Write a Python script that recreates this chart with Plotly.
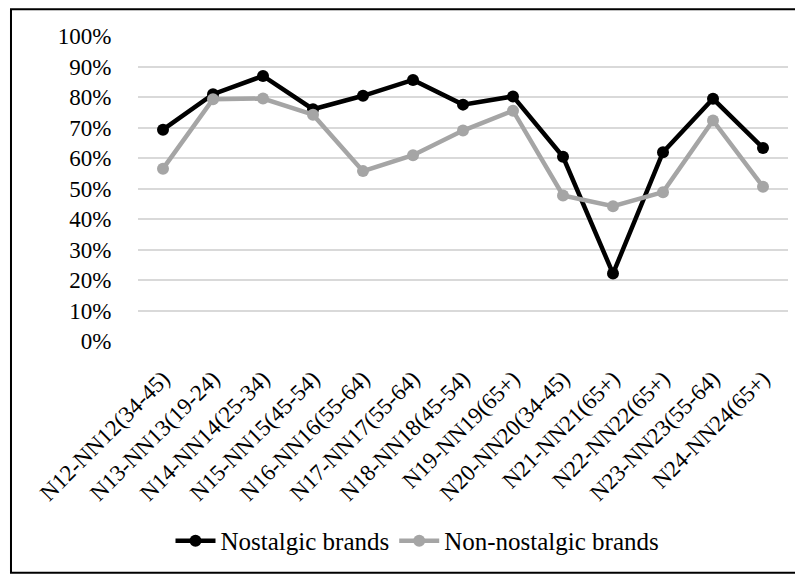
import plotly.graph_objects as go

categories = ["N12-NN12(34-45)", "N13-NN13(19-24)", "N14-NN14(25-34)", "N15-NN15(45-54)",
              "N16-NN16(55-64)", "N17-NN17(55-64)", "N18-NN18(45-54)", "N19-NN19(65+)",
              "N20-NN20(34-45)", "N21-NN21(65+)", "N22-NN22(65+)", "N23-NN23(55-64)",
              "N24-NN24(65+)"]
nostalgic = [69.3, 80.9, 86.9, 76.0, 80.4, 85.6, 77.5, 80.2, 60.4, 22.1, 61.9, 79.4, 63.3]
non_nostalgic = [56.5, 79.3, 79.5, 74.2, 55.7, 60.9, 69.0, 75.5, 47.7, 44.2, 48.8, 72.3, 50.6]
y_ticks = list(range(0, 101, 10))
y_labels = [f"{v}%" for v in y_ticks]

font = "Liberation Serif"

fig = go.Figure()
fig.add_trace(go.Scatter(x=categories, y=nostalgic, name="Nostalgic brands",
                         mode="lines+markers",
                         line=dict(color="black", width=4.5),
                         marker=dict(color="black", size=12)))
fig.add_trace(go.Scatter(x=categories, y=non_nostalgic, name="Non-nostalgic brands",
                         mode="lines+markers",
                         line=dict(color="#a5a5a5", width=4.5),
                         marker=dict(color="#a5a5a5", size=12)))

# page body has an 8px margin, so the figure is a bit smaller than the window
fig.update_layout(
    width=795, height=567,
    margin=dict(l=130, r=15, t=28, b=233),
    paper_bgcolor="white", plot_bgcolor="white",
    font=dict(family=font, size=23, color="black"),
    showlegend=True,
    legend=dict(orientation="h", x=0.43, xanchor="center", y=-0.65, yanchor="middle",
                font=dict(family=font, size=25), itemwidth=40),
    shapes=[dict(type="rect", xref="paper", yref="paper",
                 x0=-0.1954, x1=1.0185, y0=-0.76, y1=1.088,
                 line=dict(color="black", width=2))],
)
fig.update_xaxes(tickangle=-45, showgrid=False, showline=False, ticks="outside",
                 ticklen=14, tickcolor="rgba(0,0,0,0)",
                 tickfont=dict(family=font, size=23), range=[-0.5, 12.5])
fig.update_yaxes(range=[0, 100], tickmode="array", tickvals=y_ticks, ticktext=y_labels,
                 showgrid=True, gridcolor="#d9d9d9", gridwidth=1.5,
                 zeroline=False, showline=False, ticks="outside", ticklen=21,
                 tickcolor="rgba(0,0,0,0)", tickfont=dict(family=font, size=23))

fig.write_html("out.html")
